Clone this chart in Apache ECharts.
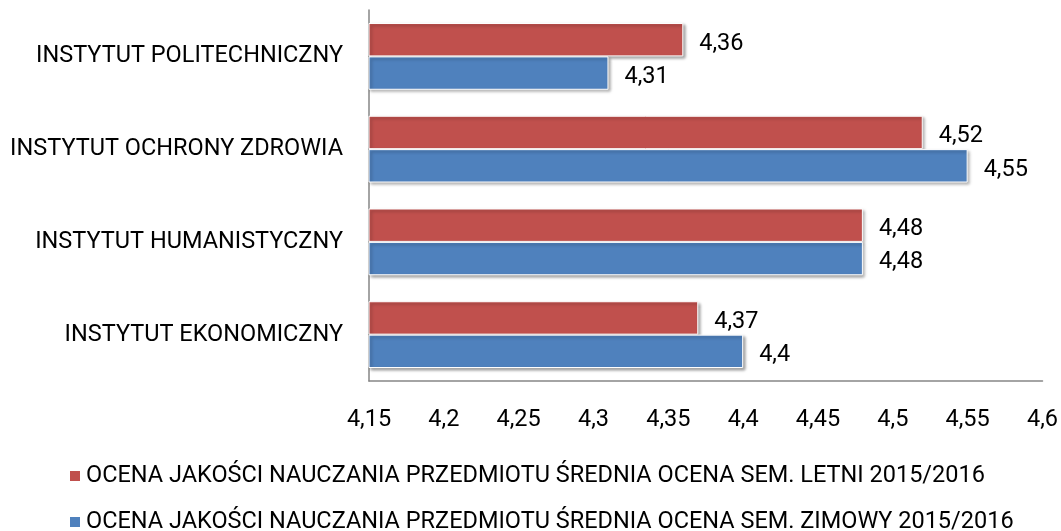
<!DOCTYPE html>
<html><head><meta charset="utf-8">
<script src="https://cdn.jsdelivr.net/npm/echarts@6/dist/echarts.min.js"></script>
<style>html,body{margin:0;padding:0;background:#fff}#c{width:1061px;height:531px}</style>
</head><body><div id="c"></div>
<script>
var categories = ['INSTYTUT EKONOMICZNY', 'INSTYTUT HUMANISTYCZNY', 'INSTYTUT OCHRONY ZDROWIA', 'INSTYTUT POLITECHNICZNY'];
var letniValues = [4.37, 4.48, 4.52, 4.36];
var zimowyValues = [4.40, 4.48, 4.55, 4.31];
var letniName = 'OCENA JAKOŚCI NAUCZANIA PRZEDMIOTU ŚREDNIA OCENA SEM. LETNI 2015/2016';
var zimowyName = 'OCENA JAKOŚCI NAUCZANIA PRZEDMIOTU ŚREDNIA OCENA SEM. ZIMOWY 2015/2016';
var axisMin = 4.15, axisMax = 4.6, axisStep = 0.05;

var FONT = 'Roboto';
var FS = 23.5;
function fmt(v){ return String(Math.round(v*100)/100).replace('.', ','); }
var barStyle = function(c){ return {color:c, borderColor:'#fff', borderWidth:1, shadowColor:'rgba(0,0,0,0.35)', shadowBlur:3, shadowOffsetX:2, shadowOffsetY:2}; };
var lbl = {show:true, position:'right', distance:16, offset:[0,4], formatter:function(p){return fmt(p.value);}, fontSize:FS, color:'#000', fontFamily:FONT};
var legendText = {fontFamily:FONT, fontSize:FS, color:'#000'};
var chart = echarts.init(document.getElementById('c'), null, {renderer:'canvas'});
chart.setOption({
  animation:false,
  textStyle:{fontFamily:FONT},
  grid:{left:369, right:14, top:10, bottom:150, containLabel:false},
  legend:[
    {left:63, top:459, itemWidth:12, itemHeight:12, icon:'rect', data:[letniName], textStyle:legendText},
    {left:63, top:505, itemWidth:12, itemHeight:12, icon:'rect', data:[zimowyName], textStyle:legendText}
  ],
  xAxis:{
    type:'value', min:axisMin, max:axisMax, interval:axisStep,
    axisLine:{show:true, lineStyle:{color:'#868686', width:1.5}},
    axisTick:{show:false}, splitLine:{show:false},
    axisLabel:{formatter:fmt, margin:27, fontSize:FS, color:'#000', fontFamily:FONT}
  },
  yAxis:{
    type:'category', data:categories,
    axisLine:{show:true, lineStyle:{color:'#868686', width:1.5}},
    axisTick:{show:false},
    axisLabel:{margin:26, fontSize:FS, color:'#000', fontFamily:FONT}
  },
  series:[
    {name:letniName, type:'bar', data:letniValues, barGap:'0%', barCategoryGap:'28%',
     itemStyle:barStyle('#C0504D'), label:lbl},
    {name:zimowyName, type:'bar', data:zimowyValues, barGap:'0%', barCategoryGap:'28%',
     itemStyle:barStyle('#4F81BD'), label:lbl}
  ]
});
</script></body></html>
